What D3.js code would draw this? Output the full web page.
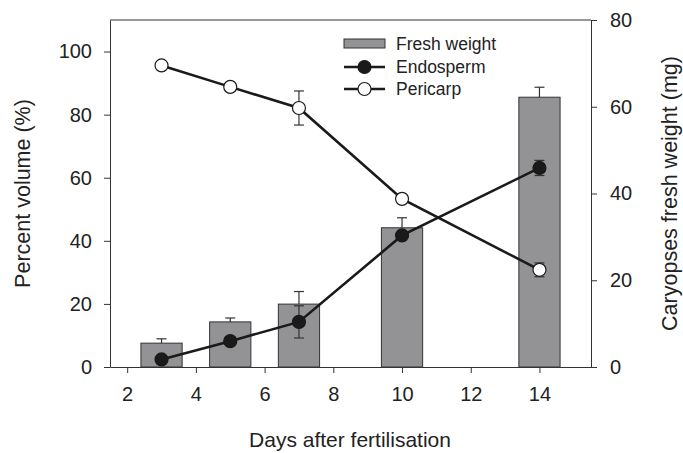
<!DOCTYPE html>
<html>
<head>
<meta charset="utf-8">
<script src="https://cdn.jsdelivr.net/npm/d3@7"></script>
<style>
  body { margin: 0; background: #fff; }
  text { font-family: "Liberation Sans", Arial, sans-serif; fill: #222; }
</style>
</head>
<body>
<div id="chart"></div>
<script>
// days after fertilisation
const days = [3, 5, 7, 10, 14];
// fresh weight (mg), right axis
const freshWeight = [5.5, 10.4, 14.5, 32.1, 62.2];
const freshErr = [1.0, 0.9, 2.9, 2.3, 2.3];
// percent volume, left axis
const endosperm = [2.4, 8.2, 14.3, 41.7, 63.1];
const endoErr = [0.5, 0.6, 5.1, 0.8, 2.4];
const pericarp = [95.6, 88.8, 82.1, 53.3, 30.8];
const periErr = [0.5, 1.2, 5.4, 0.8, 2.2];
const xTicks = [2, 4, 6, 8, 10, 12, 14];
const leftTicks = [0, 20, 40, 60, 80, 100];
const rightTicks = [0, 20, 40, 60, 80];

const width = 683, height = 453;
const margin = {top: 20, right: 92, bottom: 86, left: 110};

const svg = d3.select("#chart").append("svg")
    .attr("width", width)
    .attr("height", height);

const x = d3.scaleLinear().domain([1.5, 15.5]).range([margin.left, width - margin.right]);
const yL = d3.scaleLinear().domain([0, 110]).range([height - margin.bottom, margin.top]);
const yR = d3.scaleLinear().domain([0, 80]).range([height - margin.bottom, margin.top]);

const ink = "#1a1a1a";
const barW = x(3.6) - x(2.4);

// bars
const bars = days.map((d, i) => ({d: d, v: freshWeight[i], e: freshErr[i]}));
svg.selectAll("rect.bar")
    .data(bars)
    .enter().append("rect")
    .attr("class", "bar")
    .attr("x", b => x(b.d) - barW / 2)
    .attr("y", b => yR(b.v))
    .attr("width", barW)
    .attr("height", b => yR(0) - yR(b.v))
    .attr("fill", "#939395")
    .attr("stroke", "#333")
    .attr("stroke-width", 1);

// bar error bars (upper only)
const be = svg.append("g").attr("stroke", "#333").attr("stroke-width", 1.2);
bars.forEach(b => {
    be.append("line").attr("x1", x(b.d)).attr("x2", x(b.d))
        .attr("y1", yR(b.v)).attr("y2", yR(b.v + b.e));
    be.append("line").attr("x1", x(b.d) - 5).attr("x2", x(b.d) + 5)
        .attr("y1", yR(b.v + b.e)).attr("y2", yR(b.v + b.e));
});

function drawSeries(vals, errs, fill) {
    const pts = days.map((d, i) => ({d: d, v: vals[i], e: errs[i]}));
    const g = svg.append("g");
    const eg = g.append("g").attr("stroke", "#333").attr("stroke-width", 1.2);
    pts.forEach(p => {
        eg.append("line").attr("x1", x(p.d)).attr("x2", x(p.d))
            .attr("y1", yL(p.v - p.e)).attr("y2", yL(p.v + p.e));
        [p.v - p.e, p.v + p.e].forEach(v => {
            eg.append("line").attr("x1", x(p.d) - 5).attr("x2", x(p.d) + 5)
                .attr("y1", yL(v)).attr("y2", yL(v));
        });
    });
    g.append("path")
        .datum(pts)
        .attr("fill", "none")
        .attr("stroke", ink)
        .attr("stroke-width", 2.6)
        .attr("d", d3.line().x(p => x(p.d)).y(p => yL(p.v)));
    g.selectAll("circle")
        .data(pts)
        .enter().append("circle")
        .attr("cx", p => x(p.d))
        .attr("cy", p => yL(p.v))
        .attr("r", 6.5)
        .attr("fill", fill)
        .attr("stroke", ink)
        .attr("stroke-width", 1.2);
}
drawSeries(pericarp, periErr, "#fff");
drawSeries(endosperm, endoErr, ink);

// frame
svg.append("line")
    .attr("x1", margin.left).attr("x2", width - margin.right)
    .attr("y1", margin.top).attr("y2", margin.top)
    .attr("stroke", "#333").attr("stroke-width", 1);

// axes
function styleAxis(g) {
    g.selectAll("path").attr("stroke", "#333");
    g.selectAll("line").attr("stroke", "#333");
    g.selectAll("text").attr("font-size", 20).attr("fill", "#222")
        .attr("font-family", "Liberation Sans, Arial, sans-serif");
}
svg.append("g")
    .attr("transform", `translate(0,${height - margin.bottom})`)
    .call(d3.axisBottom(x).tickValues(xTicks).tickSize(6).tickSizeOuter(0).tickPadding(14))
    .call(styleAxis);
svg.append("g")
    .attr("transform", `translate(${margin.left},0)`)
    .call(d3.axisLeft(yL).tickValues(leftTicks).tickSize(6).tickSizeOuter(0).tickPadding(12))
    .call(styleAxis);
svg.append("g")
    .attr("transform", `translate(${width - margin.right},0)`)
    .call(d3.axisRight(yR).tickValues(rightTicks).tickSize(6).tickSizeOuter(0).tickPadding(13))
    .call(styleAxis);

// axis titles
const midY = (margin.top + height - margin.bottom) / 2;
svg.append("text")
    .attr("transform", `translate(22,${midY}) rotate(-90)`)
    .attr("text-anchor", "middle")
    .attr("dy", "0.35em")
    .attr("font-size", 21.5)
    .text("Percent volume (%)");
svg.append("text")
    .attr("transform", `translate(669,${midY}) rotate(-90)`)
    .attr("text-anchor", "middle")
    .attr("dy", "0.35em")
    .attr("font-size", 21.5)
    .text("Caryopses fresh weight (mg)");
svg.append("text")
    .attr("x", 350)
    .attr("y", 447)
    .attr("text-anchor", "middle")
    .attr("font-size", 21)
    .text("Days after fertilisation");

// legend
const leg = svg.append("g").attr("transform", "translate(344,0)");
leg.append("rect").attr("x", 0).attr("y", 39).attr("width", 41).attr("height", 9)
    .attr("fill", "#939395").attr("stroke", "#333").attr("stroke-width", 1);
[["Endosperm", 67, ink], ["Pericarp", 89, "#fff"]].forEach(([name, yy, fill]) => {
    leg.append("line").attr("x1", 0).attr("x2", 41).attr("y1", yy).attr("y2", yy)
        .attr("stroke", ink).attr("stroke-width", 2.6);
    leg.append("circle").attr("cx", 20.5).attr("cy", yy).attr("r", 6.5)
        .attr("fill", fill).attr("stroke", ink).attr("stroke-width", 1.2);
});
[["Fresh weight", 44], ["Endosperm", 67], ["Pericarp", 89]].forEach(([name, yy]) => {
    leg.append("text").attr("x", 52).attr("y", yy).attr("dy", "0.35em")
        .attr("font-size", 17.5).text(name);
});
</script>
</body>
</html>
